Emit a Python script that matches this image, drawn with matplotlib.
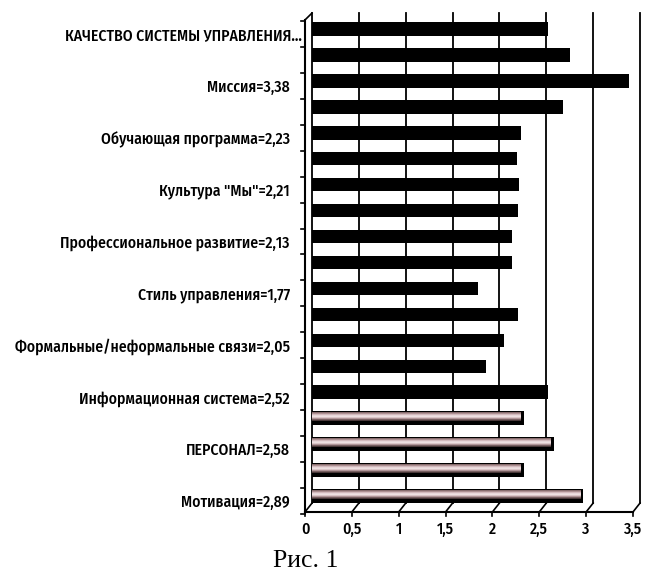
import os
import numpy as np
import matplotlib
matplotlib.use("Agg")
import matplotlib.pyplot as plt
from matplotlib import font_manager as fm
from matplotlib.transforms import ScaledTranslation

# данные диаграммы (сверху вниз)
values = [2.52, 2.75, 3.38, 2.68, 2.23, 2.19, 2.21, 2.20, 2.13, 2.13,
          1.77, 2.20, 2.05, 1.86, 2.52, 2.26, 2.58, 2.26, 2.89]
labels = ['КАЧЕСТВО СИСТЕМЫ УПРАВЛЕНИЯ...', 'Миссия=3,38',
          'Обучающая программа=2,23', 'Культура "Мы"=2,21',
          'Профессиональное развитие=2,13', 'Стиль управления=1,77',
          'Формальные/неформальные связи=2,05', 'Информационная система=2,52',
          'ПЕРСОНАЛ=2,58', 'Мотивация=2,89']
label_pos = list(range(0, len(values), 2))
n_black = 15
xticks = [0, 0.5, 1, 1.5, 2, 2.5, 3, 3.5]
xtick_labels = ['0', '0,5', '1', '1,5', '2', '2,5', '3', '3,5']


def narrow_font(size):
    files = {os.path.basename(f.fname): f.fname for f in fm.fontManager.ttflist}
    for name in ('FiraSansCondensed-Medium.ttf', 'FiraSansCondensed-Regular.ttf',
                 'DejaVuSansCondensed.ttf'):
        if name in files:
            return fm.FontProperties(fname=files[name], size=size)
    return fm.FontProperties(family='DejaVu Sans', size=size * 0.85)


W, H = 645, 574
fig = plt.figure(figsize=(W / 100, H / 100), dpi=100)
ax = fig.add_axes([312 / W, 1 - 509 / H, (640 - 312) / W, 493 / H])
for s in ax.spines.values():
    s.set_visible(False)

dx = 7 / 93.7          # сдвиг передней грани (3D)
yb, yt = 0.012, 1.006  # низ/верх задней стенки (доли осей)
yf = -0.006            # передний край пола
xt = ax.get_xaxis_transform()

# задняя стенка: сетка, пол
for x in xticks:
    ax.plot([x, x], [yb, yt], color='black', lw=1.3, transform=xt, clip_on=False)
    ax.plot([x - dx, x], [yf, yb], color='black', lw=1.2, transform=xt, clip_on=False)
    ax.plot([x - dx, x - dx], [yf, yf - 0.008], color='black', lw=1.2,
            transform=xt, clip_on=False)
ax.plot([-dx, 3.5 - dx], [yf, yf], color='black', lw=1.5, transform=xt, clip_on=False)
# левая стенка
ax.plot([-dx, -dx], [yf, 0.992], color='black', lw=1.5, transform=xt, clip_on=False)
ax.plot([-dx, 0], [0.992, yt], color='black', lw=1.2, transform=xt, clip_on=False)
for b in np.arange(-0.5, len(values), 1.0) + 0.19:
    ax.plot([-dx - 0.04, -dx], [b, b], color='black', lw=1.2, clip_on=False)

# столбцы
y = np.arange(len(values))
vals = np.array(values)
left = -0.045
h = 0.52
ax.barh(y, vals - left, left=left, height=h, color='black', zorder=3)

grad = np.array([[0.50, 0.40, 0.40], [0.78, 0.66, 0.67], [0.90, 0.83, 0.84],
                 [0.97, 0.93, 0.93], [0.84, 0.74, 0.75], [0.58, 0.47, 0.48],
                 [0.25, 0.19, 0.19]])
for yi, v in zip(y[n_black:], vals[n_black:]):
    ax.imshow(grad[:, None, :], aspect='auto', interpolation='bicubic',
              extent=(left + 0.01, v - 0.03, yi + h * 0.22, yi - h * 0.42), zorder=4)
ax.set_xlim(0, 3.5)
ax.set_ylim(len(values) - 0.5, -0.5)

# подписи
fp = narrow_font(11.3)
ax.set_yticks(label_pos)
ax.set_yticklabels(labels, fontproperties=fp)
ax.tick_params(axis='y', length=0, pad=16)
ax.set_xticks(xticks)
ax.set_xticklabels(xtick_labels, fontproperties=fp)
ax.tick_params(axis='x', length=0, pad=9)
for i, lbl in enumerate(ax.get_yticklabels()):
    shift = 12 if i == 0 else 0
    lbl.set_transform(lbl.get_transform() + ScaledTranslation(shift / 100, -5 / 100, fig.dpi_scale_trans))
for lbl in ax.get_xticklabels():
    lbl.set_transform(lbl.get_transform() + ScaledTranslation(-7 / 100, 0, fig.dpi_scale_trans))

fig.text(306 / W, 1 - 567 / H, 'Рис. 1', fontsize=18.5, family='Liberation Serif',
         ha='center', va='baseline')

fig.savefig('out.png', dpi=100)
